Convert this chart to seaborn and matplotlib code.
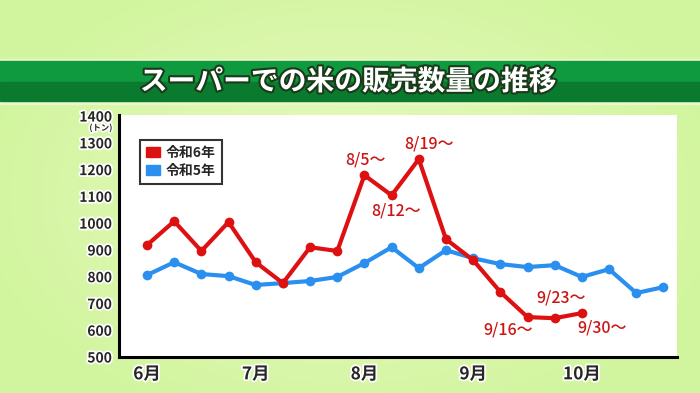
import numpy as np
import pandas as pd
import matplotlib.pyplot as plt
import matplotlib.patheffects as pe
from matplotlib.patches import Rectangle, Patch
import seaborn as sns

# weekly sales volume (tons), first week of June = week 0
r6 = [918, 1007, 896, 1004, 854, 776, 910, 896, 1179, 1104, 1239, 940, 862, 743, 649, 645, 664]
r5 = [806, 854, 810, 802, 769, 776, 784, 799, 851, 910, 832, 899, 869, 847, 836, 843, 799, 828, 739, 761]
months = ['6月', '7月', '8月', '9月', '10月']
month_weeks = [0, 4, 8, 12, 16]
yticks = [500, 600, 700, 800, 900, 1000, 1100, 1200, 1300, 1400]
# (week index, label, pixel offset x, pixel offset y (down positive))
notes = [(8, '8/5～', 1, -15), (10, '8/19～', 10, -15), (9, '8/12～', 4, 16),
         (14, '9/16～', -19, 13), (15, '9/23～', 6, -20), (16, '9/30～', 20, 15)]

red = '#dd1111'
blue = '#2b8ff0'

df = pd.concat([
    pd.DataFrame({'week': range(len(r5)), 'tons': r5, 'year': '令和5年'}),
    pd.DataFrame({'week': range(len(r6)), 'tons': r6, 'year': '令和6年'}),
])

sns.set_theme(style='white')
plt.rcParams['font.family'] = ['Noto Sans CJK JP', 'DejaVu Sans']

fig = plt.figure(figsize=(7, 3.93), dpi=100)

# background gradient
bg = fig.add_axes([0, 0, 1, 1], zorder=-10)
xx, yy = np.meshgrid(np.linspace(-1, 1, 200), np.linspace(-1, 1, 120))
d = np.clip(np.sqrt((xx / 1.1) ** 2 + (yy * 0.8) ** 2), 0, 1)
c0 = np.array([0.92, 0.98, 0.76])
c1 = np.array([0.82, 0.96, 0.62])
img = c0[None, None, :] * (1 - d[..., None]) + c1[None, None, :] * d[..., None]
bg.imshow(img, aspect='auto', extent=[0, 1, 0, 1])
bg.set_axis_off()

# title band
fig.patches.append(Rectangle((0, 1 - 104 / 393), 1, 45 / 393, transform=fig.transFigure,
                             color='#e8f8c8', zorder=-5))
fig.patches.append(Rectangle((0, 1 - 82 / 393), 1, 21 / 393, transform=fig.transFigure,
                             color='#0f9a40', zorder=-4))
fig.patches.append(Rectangle((0, 1 - 101 / 393), 1, 19 / 393, transform=fig.transFigure,
                             color='#0a7a2e', zorder=-4))
fig.text(0.497, 1 - 82 / 393, 'スーパーでの米の販売数量の推移', ha='center', va='center',
         fontsize=20, fontweight='bold', color='white',
         path_effects=[pe.withStroke(linewidth=3, foreground='#1a3a1a')])

ax = fig.add_axes([119 / 700, 36 / 393, 558 / 700, 242 / 393])
ax.set_facecolor('white')
sns.lineplot(data=df, x='week', y='tons', hue='year', hue_order=['令和5年', '令和6年'],
             palette=[blue, red], marker='o', markersize=7, markeredgewidth=0,
             linewidth=3, legend=False, ax=ax)

ax.set_xlim(-1.03, 19.5)
ax.set_ylim(500, 1404)
ax.set_xticks(month_weeks)
ax.set_xticklabels(months)
ax.set_yticks(yticks)
ax.set_xlabel('')
ax.set_ylabel('')
for s in ['top', 'right']:
    ax.spines[s].set_visible(False)
for s in ['left', 'bottom']:
    ax.spines[s].set_color('black')
    ax.spines[s].set_linewidth(2.2)
ax.tick_params(axis='both', direction='in', length=5, width=1.5, color='black')
ax.tick_params(axis='y', pad=5, labelsize=10)
ax.tick_params(axis='x', pad=6, labelsize=12.5)
outline = [pe.withStroke(linewidth=2.5, foreground='white')]
for lab in ax.get_xticklabels() + ax.get_yticklabels():
    lab.set_fontweight('bold')
    lab.set_path_effects(outline)

fig.text(101 / 700, 1 - 128 / 393, '(トン)', ha='center', va='center', fontsize=6,
         fontweight='bold', path_effects=outline)

for i, txt, dx, dy in notes:
    ax.annotate(txt, (i, r6[i]), xytext=(dx * 0.72, -dy * 0.72), textcoords='offset points',
                ha='center', va='center', color='#cc1515', fontsize=11.5, fontweight='medium')

handles = [Patch(color=red, label='令和6年'), Patch(color=blue, label='令和5年')]
leg = ax.legend(handles=handles, loc='upper left', bbox_to_anchor=(0.038, 0.897),
                borderaxespad=0, fontsize=10, frameon=True, fancybox=False,
                edgecolor='black', handlelength=1.0, handleheight=0.75,
                handletextpad=0.4, borderpad=0.45, labelspacing=0.25)
leg.get_frame().set_linewidth(1.5)
for t in leg.get_texts():
    t.set_fontweight('bold')

fig.savefig('out.png', dpi=100)
